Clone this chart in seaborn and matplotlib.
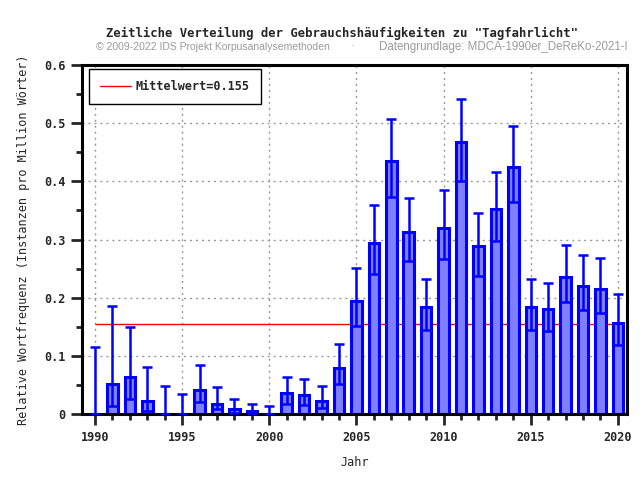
import numpy as np
import pandas as pd
import matplotlib.pyplot as plt
import seaborn as sns
from matplotlib.lines import Line2D
from matplotlib.ticker import MultipleLocator, FuncFormatter

plt.switch_backend("Agg")

# ===================== Daten =====================
jahre = list(range(1990, 2021))
werte = [0.0, 0.051, 0.063, 0.022, 0.0, 0.0, 0.041, 0.018, 0.008, 0.005,
         0.0, 0.036, 0.032, 0.022, 0.079, 0.194, 0.294, 0.435, 0.313, 0.184,
         0.320, 0.467, 0.289, 0.353, 0.425, 0.184, 0.180, 0.236, 0.220, 0.215,
         0.157]
obere = [0.115, 0.185, 0.149, 0.080, 0.049, 0.034, 0.084, 0.046, 0.026, 0.018,
         0.013, 0.063, 0.061, 0.049, 0.120, 0.251, 0.359, 0.507, 0.371, 0.232,
         0.385, 0.542, 0.345, 0.416, 0.495, 0.232, 0.225, 0.290, 0.273, 0.268,
         0.207]
untere = [0.0, 0.014, 0.026, 0.006, 0.0, 0.0, 0.020, 0.009, 0.002, 0.0,
          0.0, 0.018, 0.016, 0.011, 0.051, 0.151, 0.240, 0.373, 0.263, 0.145,
          0.266, 0.401, 0.238, 0.297, 0.364, 0.145, 0.142, 0.192, 0.178, 0.173,
          0.119]
mittelwert = 0.155

df = pd.DataFrame({"Jahr": jahre, "Wert": werte, "Oben": obere, "Unten": untere})

# ===================== Stil =====================
sns.set_style("ticks")
plt.rcParams["font.family"] = ["DejaVu Sans Mono", "DejaVu Sans"]
plt.rcParams["font.weight"] = "bold"
plt.rcParams["font.size"] = 8.5

blau = "#0000ff"
grau = "#9a9a9a"
sub_font = ["Liberation Sans", "DejaVu Sans"]

fig = plt.figure(figsize=(6.4, 4.8), dpi=100)
ax = fig.add_axes([0.128, 0.1375, 0.8516, 0.727])

# Raster + Mittelwert hinter den Balken
ax.grid(True, which="major", color=grau, linestyle=(0, (1.5, 2.8)), linewidth=1)
ax.set_axisbelow(True)
ax.hlines(mittelwert, jahre[0], jahre[-1], color="red", linewidth=1, zorder=1)

sns.barplot(data=df, x="Jahr", y="Wert", native_scale=True, width=0.6,
            color="#8080ff", edgecolor=blau, linewidth=2.2, saturation=1,
            errorbar=None, ax=ax, zorder=2)

ax.errorbar(df["Jahr"], df["Wert"],
            yerr=[df["Wert"] - df["Unten"], df["Oben"] - df["Wert"]],
            fmt="none", ecolor=blau, elinewidth=1.8, capsize=3.5, capthick=1.8,
            zorder=3)

# Achsen
ax.set_xlim(1989.25, 2020.52)
ax.set_ylim(0, 0.6)
ax.xaxis.set_major_locator(MultipleLocator(5))
ax.xaxis.set_minor_locator(MultipleLocator(1))
ax.yaxis.set_major_locator(MultipleLocator(0.1))
ax.yaxis.set_minor_locator(MultipleLocator(0.05))
ax.yaxis.set_major_formatter(FuncFormatter(lambda v, p: f"{v:g}"))
ax.tick_params(which="major", direction="out", length=8, width=2, pad=4)
ax.tick_params(which="minor", direction="out", length=4, width=2)
for s in ax.spines.values():
    s.set_visible(True)
    s.set_linewidth(2.2)
    s.set_color("black")

ax.set_xlabel("Jahr", labelpad=9)
ax.set_ylabel("Relative Wortfrequenz (Instanzen pro Million Wörter)", labelpad=10)

# Legende
leg = ax.legend(handles=[Line2D([], [], color="red", linewidth=1,
                                label=f"Mittelwert={mittelwert}")],
                loc="upper left", fancybox=False, framealpha=1,
                edgecolor="black", borderpad=0.95, handlelength=2.6,
                handletextpad=0.4, borderaxespad=0,
                bbox_to_anchor=(0.013, 0.989))
leg.get_frame().set_linewidth(1)

# Titel
fig.text(0.535, 0.931, 'Zeitliche Verteilung der Gebrauchshäufigkeiten zu "Tagfahrlicht"',
         ha="center", va="center", fontsize=8.8, fontweight="bold")
fig.text(0.15, 0.903, "© 2009-2022 IDS Projekt Korpusanalysemethoden",
         ha="left", va="center", fontsize=7.5, color=grau,
         family=sub_font, fontweight="normal")
fig.text(0.55, 0.903, "·", ha="center", va="center", fontsize=7.5,
         color=grau, family=sub_font, fontweight="normal")
fig.text(0.98, 0.903, "Datengrundlage: MDCA-1990er_DeReKo-2021-I",
         ha="right", va="center", fontsize=8.3, color=grau,
         family=sub_font, fontweight="normal")

fig.savefig("out.png", dpi=100)
plt.close(fig)
